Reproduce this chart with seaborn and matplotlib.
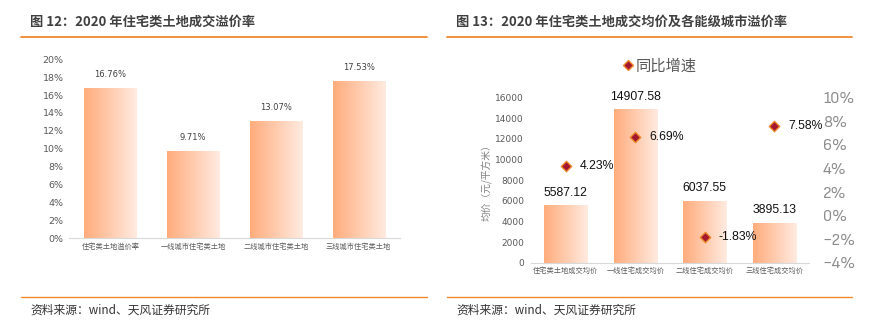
import numpy as np
import pandas as pd
import matplotlib
matplotlib.use("Agg")
import matplotlib.pyplot as plt
from matplotlib.colors import LinearSegmentedColormap
from matplotlib.lines import Line2D
import seaborn as sns

sns.set_theme(style="white")
plt.rcParams["font.family"] = ["Noto Sans CJK SC", "DejaVu Sans"]
plt.rcParams["axes.unicode_minus"] = False

# ---- data ----
premium_cats = ["住宅类土地溢价率", "一线城市住宅类土地", "二线城市住宅类土地", "三线城市住宅类土地"]
premium_vals = [0.1676, 0.0971, 0.1307, 0.1753]

price_cats = ["住宅类土地成交均价", "一线住宅成交均价", "二线住宅成交均价", "三线住宅成交均价"]
price_vals = [5587.12, 14907.58, 6037.55, 3895.13]
yoy_vals = [0.0423, 0.0669, -0.0183, 0.0758]

left_ticks = [0, 0.02, 0.04, 0.06, 0.08, 0.10, 0.12, 0.14, 0.16, 0.18, 0.20]
price_ticks = [0, 2000, 4000, 6000, 8000, 10000, 12000, 14000, 16000]
yoy_ticks = [-0.04, -0.02, 0.0, 0.02, 0.04, 0.06, 0.08, 0.10]

ORANGE = "#EE8A2C"
TITLE_C = "#404040"
TICK_C = "#595959"
NARROW = ["Sofia Sans Semi Condensed", "DejaVu Sans"]
grad_cmap = LinearSegmentedColormap.from_list("peach", ["#FFAC7C", "#FFEBE1"])


def gradient_bars(ax):
    xl, yl = ax.get_xlim(), ax.get_ylim()
    grad = np.linspace(0, 1, 256).reshape(1, -1)
    for p in list(ax.patches):
        x0, y0 = p.get_x(), p.get_y()
        w, h = p.get_width(), p.get_height()
        im = ax.imshow(grad, cmap=grad_cmap, aspect="auto",
                       extent=[x0, x0 + w, y0, y0 + h], zorder=2,
                       interpolation="bicubic")
        im.set_clip_path(p)
        p.set_facecolor("none")
        p.set_edgecolor("none")
    ax.set_xlim(xl)
    ax.set_ylim(yl)


fig = plt.figure(figsize=(8.8, 3.32), dpi=100)
W, H = 880, 332


def fx(px):
    return px / W


def fy(py):
    return 1 - py / H


# ---- header / footer lines and texts ----
for x0, x1 in [(21, 427), (447, 852)]:
    fig.add_artist(Line2D([fx(x0), fx(x1)], [fy(36.5), fy(36.5)], color=ORANGE, lw=1.3))
    fig.add_artist(Line2D([fx(x0), fx(x1)], [fy(297), fy(297)], color=ORANGE, lw=1.0))

fig.text(fx(30), fy(22), "图 12：2020 年住宅类土地成交溢价率", fontsize=9.5,
         fontweight="bold", color=TITLE_C, va="center", ha="left")
fig.text(fx(456), fy(22), "图 13：2020 年住宅类土地成交均价及各能级城市溢价率", fontsize=9.5,
         fontweight="bold", color=TITLE_C, va="center", ha="left")
fig.text(fx(30), fy(310), "资料来源：wind、天风证券研究所", fontsize=8.5,
         color="#333333", va="center", ha="left")
fig.text(fx(456), fy(310), "资料来源：wind、天风证券研究所", fontsize=8.5,
         color="#333333", va="center", ha="left")

# ---- left chart: premium rate ----
ax1 = fig.add_axes([fx(69), fy(238.3), fx(400) - fx(69), (238.3 - 59.3) / H])
df1 = pd.DataFrame({"cat": premium_cats, "val": premium_vals})
sns.barplot(data=df1, x="cat", y="val", ax=ax1, width=0.63, color="#FFAC7C",
            saturation=1, zorder=2)
ax1.set_xlim(-0.5, 3.5)
ax1.set_ylim(0, 0.20)
gradient_bars(ax1)
ax1.set_yticks(left_ticks)
ax1.set_yticklabels([f"{v:.0%}" for v in left_ticks], fontsize=6.8, color=TICK_C,
                    family=["DejaVu Sans"])
ax1.set_xticks(range(len(premium_cats)))
ax1.set_xticklabels(premium_cats, fontsize=5.2, color=TICK_C)
ax1.tick_params(axis="both", length=0, pad=4)
ax1.tick_params(axis="x", pad=3)
ax1.set_xlabel("")
ax1.set_ylabel("")
for s in ["top", "right", "left"]:
    ax1.spines[s].set_visible(False)
ax1.spines["bottom"].set_color("#D9D9D9")
ax1.spines["bottom"].set_linewidth(0.8)
for i, v in enumerate(premium_vals):
    ax1.annotate(f"{v:.2%}", (i, v), xytext=(0, 7), textcoords="offset points",
                 ha="center", va="bottom", fontsize=6, color="#404040",
                 family=["DejaVu Sans"])

# ---- right chart: price bars + yoy markers ----
ax2 = fig.add_axes([fx(531), fy(263), fx(809) - fx(531), (263 - 97.5) / H])
df2 = pd.DataFrame({"cat": price_cats, "price": price_vals, "yoy": yoy_vals})
sns.barplot(data=df2, x="cat", y="price", ax=ax2, width=0.62, color="#FFAC7C",
            saturation=1, zorder=2)
ax2.set_xlim(-0.5, 3.5)
ax2.set_ylim(0, 16000)
gradient_bars(ax2)
ax2.set_yticks(price_ticks)
ax2.set_yticklabels([str(v) for v in price_ticks], fontsize=6.5, color=TICK_C,
                    family=["DejaVu Sans"])
ax2.set_xticks(range(len(price_cats)))
ax2.set_xticklabels(price_cats, fontsize=5.2, color=TICK_C)
ax2.tick_params(axis="both", length=0)
ax2.tick_params(axis="y", pad=5)
ax2.tick_params(axis="x", pad=3)
ax2.set_xlabel("")
ax2.set_ylabel("均价（元/平方米）", fontsize=7, color="#808080", labelpad=2)
for s in ["top", "right", "left"]:
    ax2.spines[s].set_visible(False)
ax2.spines["bottom"].set_color("#D9D9D9")
ax2.spines["bottom"].set_linewidth(0.8)
for i, v in enumerate(price_vals):
    ax2.annotate(f"{v:.2f}", (i, v), xytext=(0, 4.5), textcoords="offset points",
                 ha="center", va="bottom", fontsize=8.8, color="#111111",
                 family=["Liberation Sans"])

ax3 = ax2.twinx()
sns.scatterplot(data=df2, x="cat", y="yoy", ax=ax3, marker="D", s=28,
                color="#A3172F", edgecolor=ORANGE, linewidth=1.0, zorder=5,
                legend=False)
ax3.set_xlim(-0.5, 3.5)
ax3.set_ylim(-0.04, 0.10)
ax3.set_yticks(yoy_ticks)
ax3.set_yticklabels([f"{v:.0%}".replace("-", "\u2212") for v in yoy_ticks], fontsize=12,
                    color="#8C8C8C", family=NARROW)
ax3.tick_params(axis="y", length=0, pad=10)
ax3.set_ylabel("")
for s in ["top", "right", "left", "bottom"]:
    ax3.spines[s].set_visible(False)
for i, v in enumerate(yoy_vals):
    ax3.annotate(f"{v:.2%}", (i, v), xytext=(10, 0), textcoords="offset points",
                 ha="left", va="center", fontsize=8.8, color="#111111",
                 family=["Liberation Sans"])

handle = Line2D([], [], marker="D", linestyle="none", markersize=5.5,
                markerfacecolor="#A3172F", markeredgecolor=ORANGE, markeredgewidth=1.0)
fig.legend([handle], ["同比增速"], loc="center", bbox_to_anchor=(fx(660), fy(66)),
           frameon=False, fontsize=11, labelcolor="#595959", handlelength=0.6,
           handletextpad=0.2, borderpad=0)

fig.savefig("out.png", dpi=100)
